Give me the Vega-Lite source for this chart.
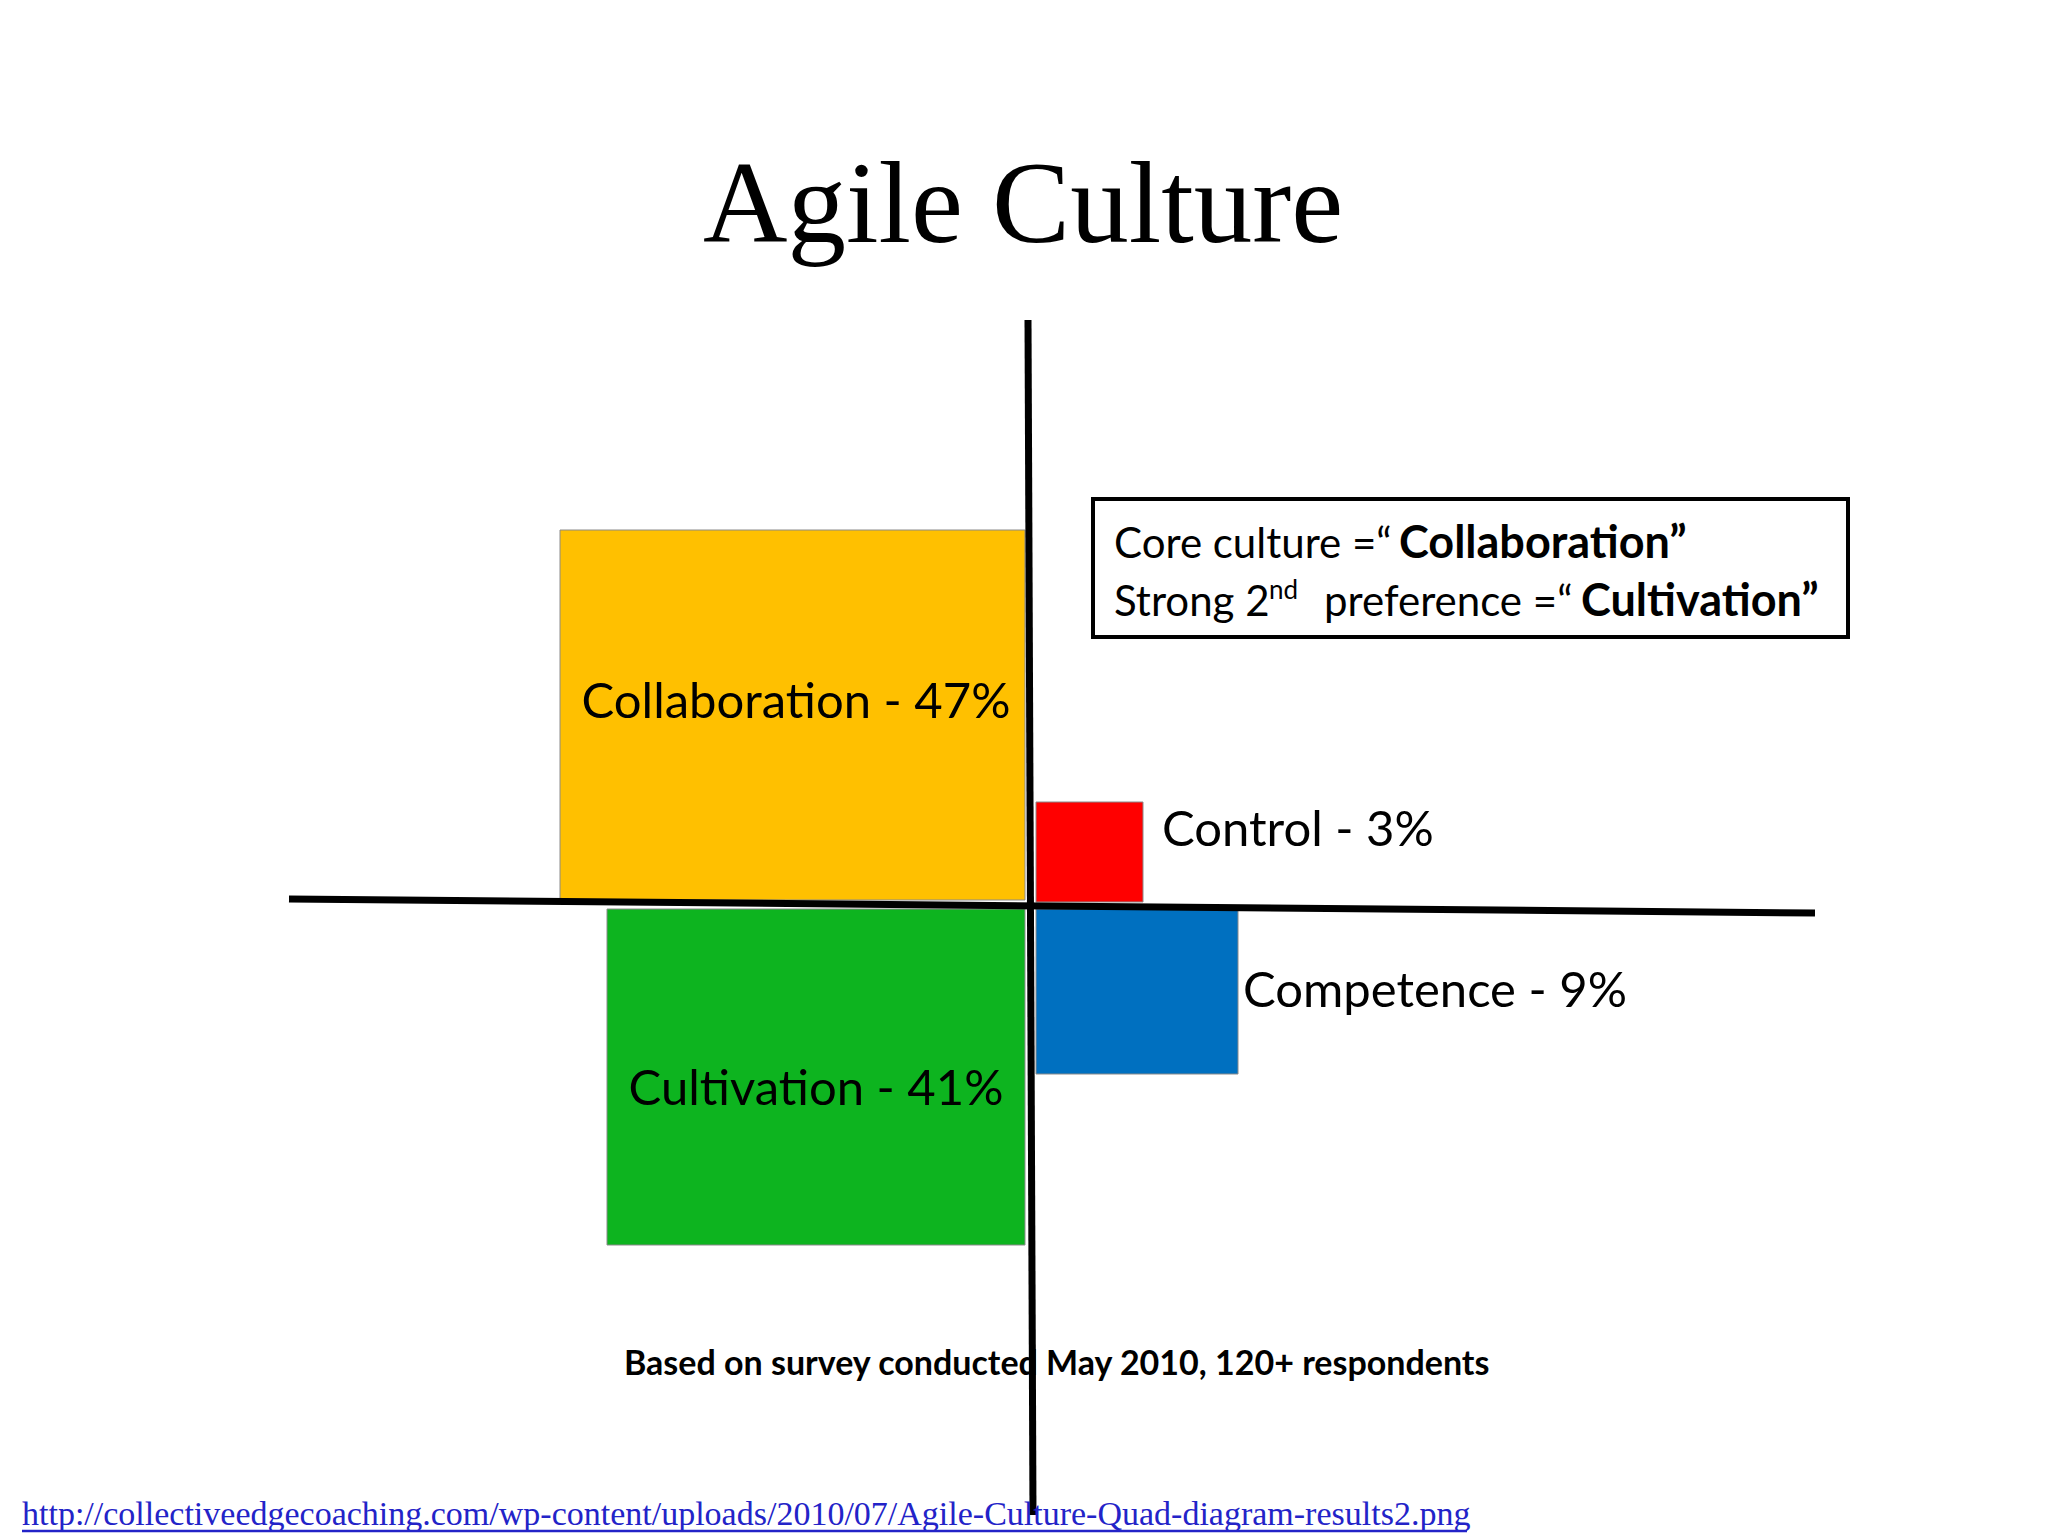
{
  "$schema": "https://vega.github.io/schema/vega-lite/v6.json",
  "width": 2048,
  "height": 1536,
  "autosize": {"type": "fit", "contains": "padding"},
  "padding": 0,
  "background": "white",
  "config": {"view": {"stroke": null}},
  "datasets": {
    "quadrants": [
      {"culture": "Collaboration", "share": 47, "x": -471, "x2": -6, "y": 6, "y2": 376},
      {"culture": "Cultivation", "share": 41, "x": -424, "x2": -6, "y": -339, "y2": -3},
      {"culture": "Control", "share": 3, "x": 5, "x2": 112, "y": 4, "y2": 104},
      {"culture": "Competence", "share": 9, "x": 5, "x2": 207, "y": -168, "y2": -3}
    ],
    "centeredLabels": [
      {"text": "Collaboration - 47%", "x": -235, "y": 188},
      {"text": "Cultivation - 41%", "x": -215, "y": -199}
    ],
    "sideLabels": [
      {"text": "Control - 3%", "x": 131, "y": 60},
      {"text": "Competence - 9%", "x": 212, "y": -101}
    ],
    "axes": [
      {"axis": "horizontal", "x": -742, "y": 7, "x2": 784, "y2": -7},
      {"axis": "vertical", "x": -3, "y": 586, "x2": 2, "y2": -609}
    ],
    "noteBox": [
      {"x": 62, "x2": 817, "y": 269, "y2": 407}
    ],
    "noteRegular": [
      {"text": "Core culture =“", "x": 83, "y": 348},
      {"text": "Strong 2", "x": 83, "y": 290},
      {"text": "preference =“", "x": 293, "y": 290}
    ],
    "noteBold": [
      {"text": "Collaboration”", "x": 368, "y": 348},
      {"text": "Cultivation”", "x": 550, "y": 290}
    ],
    "noteSup": [
      {"text": "nd", "x": 238, "y": 307}
    ]
  },
  "encoding": {
    "x": {"field": "x", "type": "quantitative", "scale": {"domain": [-1031, 1017], "nice": false, "zero": false}, "axis": null},
    "y": {"field": "y", "type": "quantitative", "scale": {"domain": [-630, 906], "nice": false, "zero": false}, "axis": null}
  },
  "layer": [
    {
      "data": {"name": "quadrants"},
      "mark": {"type": "rect", "stroke": "#8a8a8a", "strokeWidth": 1},
      "encoding": {
        "x2": {"field": "x2"},
        "y2": {"field": "y2"},
        "color": {
          "field": "culture",
          "type": "nominal",
          "scale": {
            "domain": ["Collaboration", "Cultivation", "Control", "Competence"],
            "range": ["#FFC000", "#0DB41F", "#FF0000", "#0070C0"]
          },
          "legend": null
        }
      }
    },
    {
      "data": {"name": "centeredLabels"},
      "mark": {"type": "text", "font": "Lato", "fontSize": 49, "align": "center", "baseline": "alphabetic", "color": "black"},
      "encoding": {"text": {"field": "text"}}
    },
    {
      "data": {"name": "sideLabels"},
      "mark": {"type": "text", "font": "Lato", "fontSize": 49, "align": "left", "baseline": "alphabetic", "color": "black"},
      "encoding": {"text": {"field": "text"}}
    },
    {
      "data": {"name": "noteBox"},
      "mark": {"type": "rect", "filled": false, "stroke": "black", "strokeWidth": 4},
      "encoding": {"x2": {"field": "x2"}, "y2": {"field": "y2"}}
    },
    {
      "data": {"name": "noteRegular"},
      "mark": {"type": "text", "font": "Lato", "fontSize": 42, "align": "left", "baseline": "alphabetic", "color": "black"},
      "encoding": {"text": {"field": "text"}}
    },
    {
      "data": {"name": "noteBold"},
      "mark": {"type": "text", "font": "Lato", "fontSize": 45, "fontWeight": "bold", "align": "left", "baseline": "alphabetic", "color": "black"},
      "encoding": {"text": {"field": "text"}}
    },
    {
      "data": {"name": "noteSup"},
      "mark": {"type": "text", "font": "Lato", "fontSize": 26, "align": "left", "baseline": "alphabetic", "color": "black"},
      "encoding": {"text": {"field": "text"}}
    },
    {
      "data": {"values": [{"text": "Agile Culture", "x": -8, "y": 664}]},
      "mark": {"type": "text", "font": "Liberation Serif", "fontSize": 117, "align": "center", "baseline": "alphabetic", "color": "black"},
      "encoding": {"text": {"field": "text"}}
    },
    {
      "data": {"values": [{"text": "Based on survey conducted May 2010, 120+ respondents", "x": -407, "y": -469}]},
      "mark": {"type": "text", "font": "Lato", "fontSize": 34, "fontWeight": "bold", "align": "left", "baseline": "alphabetic", "color": "black"},
      "encoding": {"text": {"field": "text"}}
    },
    {
      "data": {"name": "axes"},
      "mark": {"type": "rule", "color": "black", "strokeWidth": 7},
      "encoding": {"x2": {"field": "x2"}, "y2": {"field": "y2"}}
    },
    {
      "data": {"values": [{"text": "http://collectiveedgecoaching.com/wp-content/uploads/2010/07/Agile-Culture-Quad-diagram-results2.png", "x": -1009, "y": -619}]},
      "mark": {"type": "text", "font": "Liberation Serif", "fontSize": 34, "align": "left", "baseline": "alphabetic", "color": "#2323C8"},
      "encoding": {"text": {"field": "text"}}
    },
    {
      "data": {"values": [{"x": -1009, "x2": 436, "y": -625, "y2": -625}]},
      "mark": {"type": "rule", "color": "#2323C8", "strokeWidth": 2.5},
      "encoding": {"x2": {"field": "x2"}, "y2": {"field": "y2"}}
    }
  ]
}
